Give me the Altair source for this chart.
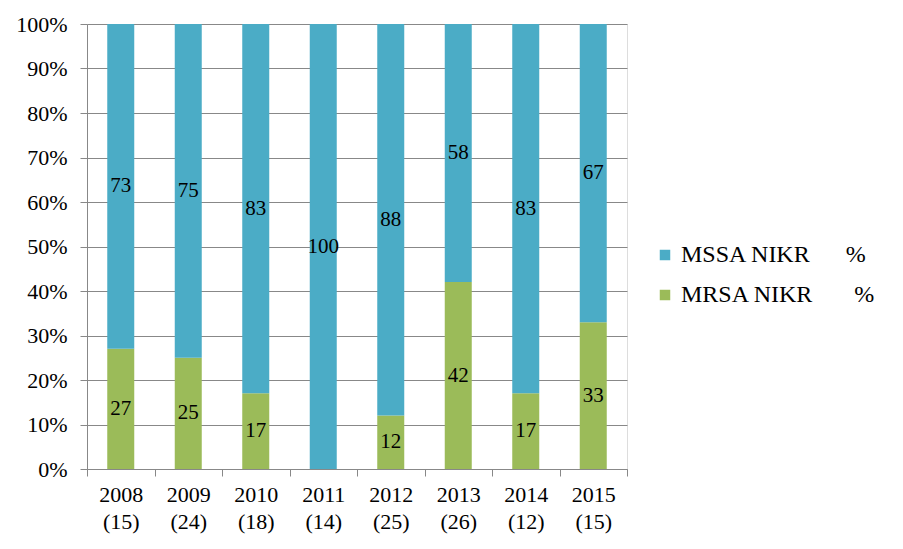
import altair as alt
import pandas as pd

years = ["2008", "2009", "2010", "2011", "2012", "2013", "2014", "2015"]
counts = ["15", "24", "18", "14", "25", "26", "12", "15"]
mssa = [73, 75, 83, 100, 88, 58, 83, 67]
mrsa = [27, 25, 17, 0, 12, 42, 17, 33]
series = ["MSSA NIKR", "MRSA NIKR"]
colors = ["#4BACC6", "#9BBB59"]
legend_pad = {"MSSA NIKR": 6, "MRSA NIKR": 7}

rows = []
for y, c, a, b in zip(years, counts, mssa, mrsa):
    cat = f"{y}|({c})"
    rows.append({"cat": cat, "series": "MRSA NIKR", "value": b, "ord": 0})
    rows.append({"cat": cat, "series": "MSSA NIKR", "value": a, "ord": 1})
df = pd.DataFrame(rows)

label_expr = " : ".join(
    [f"datum.label == '{k}' ? '{k}' + '{chr(160) * n}' + '%'" for k, n in legend_pad.items()]
) + " : datum.label"

font = "'Times New Roman', 'Liberation Serif', 'DejaVu Serif', serif"

base = alt.Chart(df).transform_stack(
    stack="value", groupby=["cat"], sort=[alt.SortField("ord", order="ascending")], as_=["y0", "y1"]
).transform_calculate(mid="(datum.y0 + datum.y1) / 2")

order = [f"{y}|({c})" for y, c in zip(years, counts)]

x_enc = alt.X(
    "cat:N",
    sort=order,
    scale=alt.Scale(paddingInner=0, paddingOuter=0),
    axis=alt.Axis(
        title=None, labelAngle=0, labelExpr="split(datum.label, '|')",
        tickBand="extent", tickSize=7, tickColor="#888888", domainColor="#888888",
        labelFont=font, labelFontSize=22, labelColor="#000000", labelPadding=8,
        labelLineHeight=27, grid=False, labelBaseline="top",
    ),
)

bars = base.mark_bar(size=27).encode(
    x=x_enc,
    y=alt.Y(
        "y0:Q",
        scale=alt.Scale(domain=[0, 100]),
        axis=alt.Axis(
            title=None, values=list(range(0, 101, 10)), labelExpr="datum.value + '%'",
            tickSize=7, tickColor="#888888", domainColor="#888888", gridColor="#888888",
            labelFont=font, labelFontSize=22, labelColor="#000000", labelPadding=13,
        ),
    ),
    y2="y1:Q",
    color=alt.Color(
        "series:N",
        scale=alt.Scale(domain=series, range=colors),
        legend=alt.Legend(
            title=None, orient="none", legendX=566, legendY=219,
            symbolType="square", symbolSize=110, symbolStrokeWidth=0,
            labelFont=font, labelFontSize=24, labelColor="#000000",
            labelExpr=label_expr, rowPadding=16, labelOffset=4, labelLimit=400,
        ),
    ),
)

texts = base.transform_filter("datum.value > 0").mark_text(
    font=font, fontSize=21, color="#000000", baseline="middle", align="center"
).encode(
    x=alt.X("cat:N", sort=order),
    y="mid:Q",
    text="value:Q",
)

chart = alt.layer(bars, texts).properties(
    width=540, height=445,
    autosize=alt.AutoSizeParams(type="none"),
    padding={"left": 79, "top": 16, "right": 260, "bottom": 70},
).configure_view(stroke=None).configure(background="white", font=font)

chart.save("out.html", embed_options={"renderer": "svg", "actions": False})
